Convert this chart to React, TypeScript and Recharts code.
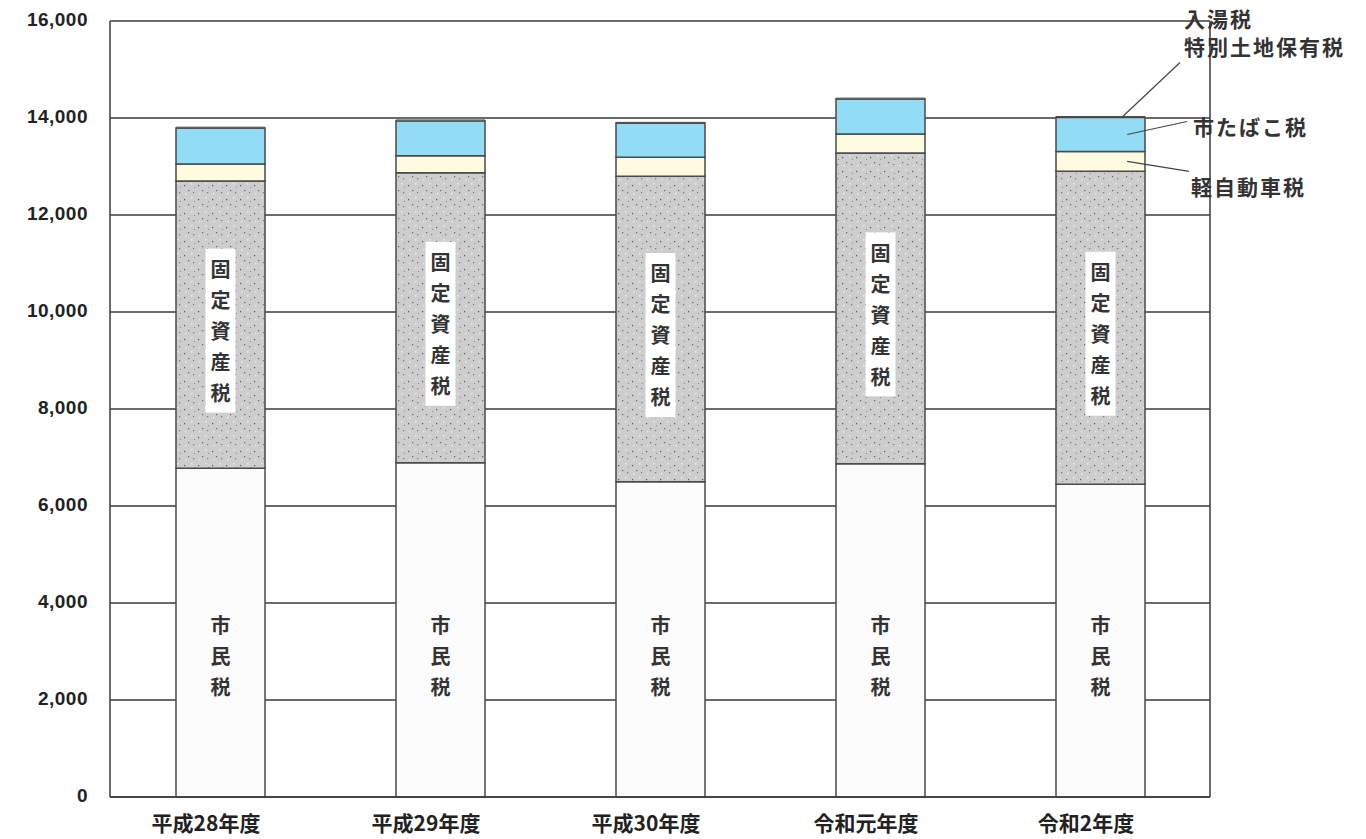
import React from 'react';
import { BarChart, Bar, XAxis, YAxis, CartesianGrid, LabelList } from 'recharts';

const categories = ['平成28年度', '平成29年度', '平成30年度', '令和元年度', '令和2年度'];
const shiminzei = [6780, 6890, 6500, 6870, 6450];
const koteishisanzei = [5920, 5980, 6300, 6410, 6450];
const keijidoshazei = [350, 350, 390, 390, 410];
const tabakozei = [740, 720, 700, 720, 700];
const nyutozei = [20, 20, 20, 20, 20];
const yTicks = [0, 2000, 4000, 6000, 8000, 10000, 12000, 14000, 16000];

const data = categories.map((name, i) => ({
  name,
  shimin: shiminzei[i],
  kotei: koteishisanzei[i],
  kei: keijidoshazei[i],
  tabako: tabakozei[i],
  nyuto: nyutozei[i],
}));

const FONT = '"Noto Sans CJK JP", "Noto Sans", sans-serif';
const INK = '#333';
const EDGE = '#4a4a4a';

const VerticalText: React.FC<{ cx: number; cy: number; text: string; box?: boolean }> = ({ cx, cy, text, box }) => {
  const step = 31;
  const chars = text.split('');
  const top = cy - ((chars.length - 1) * step) / 2;
  return (
    <g>
      {box && (
        <rect x={cx - 15} y={top - 20} width={30} height={(chars.length - 1) * step + 40} fill="#fff" />
      )}
      {chars.map((c, i) => (
        <text
          key={i}
          x={cx}
          y={top + i * step}
          textAnchor="middle"
          dominantBaseline="central"
          fontFamily={FONT}
          fontWeight={700}
          fontSize={20}
          fill={INK}
        >
          {c}
        </text>
      ))}
    </g>
  );
};

const annoText = (x: number, y: number, t: string) => (
  <text
    x={x}
    y={y}
    fontFamily={FONT}
    fontWeight={700}
    fontSize={21}
    letterSpacing={2}
    fill={INK}
    dominantBaseline="central"
  >
    {t}
  </text>
);

const YTick: React.FC<any> = ({ x, y, payload }) => (
  <text
    x={x}
    y={y - 2}
    textAnchor="end"
    dominantBaseline="central"
    fontFamily='"Liberation Sans", Arial, sans-serif'
    fontWeight={700}
    fontSize={19}
    letterSpacing={0.5}
    fill="#222"
  >
    {payload.value.toLocaleString('en-US')}
  </text>
);

const XTick: React.FC<any> = ({ x, y, payload }) => (
  <text
    x={x - 14}
    y={y + 17}
    textAnchor="middle"
    dominantBaseline="central"
    fontFamily={FONT}
    fontWeight={700}
    fontSize={21}
    fill="#222"
  >
    {payload.value}
  </text>
);

export default function App() {
  return (
    <div style={{ position: 'absolute', left: 0, top: 0, width: 1366, height: 839, background: '#fff' }}>
      <BarChart
        width={1366}
        height={839}
        data={data}
        margin={{ top: 21, right: 156, left: 0, bottom: 0 }}
        barSize={89}
      >
        <defs>
          <pattern id="grain" width="14" height="14" patternUnits="userSpaceOnUse">
            <rect width="14" height="14" fill="#cdcdcd" />
            <rect x="2" y="3" width="1.2" height="1.2" fill="#555" />
            <rect x="9" y="1" width="1.5" height="1.5" fill="#ececec" />
            <rect x="6" y="8" width="1.2" height="1.2" fill="#666" />
            <rect x="11" y="10" width="1.2" height="1.2" fill="#777" />
            <rect x="3" y="11" width="1.5" height="1.5" fill="#e8e8e8" />
            <rect x="12" y="5" width="1" height="1" fill="#888" />
          </pattern>
        </defs>
        <CartesianGrid
          stroke="#3a3a3a"
          strokeWidth={1.5}
          verticalCoordinatesGenerator={({ offset }: any) => [offset.left, offset.left + offset.width]}
        />
        <XAxis
          dataKey="name"
          height={42}
          axisLine={{ stroke: '#3a3a3a', strokeWidth: 1.5 }}
          tickLine={false}
          tick={<XTick />}
          interval={0}
        />
        <YAxis
          width={110}
          domain={[0, 16000]}
          ticks={yTicks}
          interval={0}
          axisLine={false}
          tickLine={false}
          tickSize={0}
          tickMargin={22}
          tick={<YTick />}
        />
        <Bar dataKey="shimin" stackId="a" fill="#fcfcfc" stroke={EDGE} strokeWidth={1.5} isAnimationActive={false}>
          <LabelList
            dataKey="shimin"
            content={(p: any) => (
              <VerticalText cx={p.x + p.width / 2} cy={p.y + p.height - 142} text="市民税" />
            )}
          />
        </Bar>
        <Bar dataKey="kotei" stackId="a" fill="url(#grain)" stroke={EDGE} strokeWidth={1.5} isAnimationActive={false}>
          <LabelList
            dataKey="kotei"
            content={(p: any) => (
              <VerticalText cx={p.x + p.width / 2} cy={p.y + p.height / 2 + 6} text="固定資産税" box />
            )}
          />
        </Bar>
        <Bar dataKey="kei" stackId="a" fill="#fffbe0" stroke={EDGE} strokeWidth={1.5} isAnimationActive={false}>
          <LabelList
            dataKey="kei"
            content={(p: any) =>
              p.index === 4 ? (
                <g>
                  <line
                    x1={p.x + p.width * 0.8}
                    y1={p.y + p.height / 2}
                    x2={p.x + p.width + 44}
                    y2={p.y + p.height / 2 + 10}
                    stroke="#444"
                    strokeWidth={1.2}
                  />
                  {annoText(p.x + p.width + 46, p.y + p.height / 2 + 25, '軽自動車税')}
                </g>
              ) : null
            }
          />
        </Bar>
        <Bar dataKey="tabako" stackId="a" fill="#93dcf6" stroke={EDGE} strokeWidth={1.5} isAnimationActive={false}>
          <LabelList
            dataKey="tabako"
            content={(p: any) =>
              p.index === 4 ? (
                <g>
                  <line
                    x1={p.x + p.width * 0.8}
                    y1={p.y + p.height / 2}
                    x2={p.x + p.width + 42}
                    y2={p.y + p.height / 2 - 13}
                    stroke="#444"
                    strokeWidth={1.2}
                  />
                  {annoText(p.x + p.width + 48, p.y + p.height / 2 - 8, '市たばこ税')}
                </g>
              ) : null
            }
          />
        </Bar>
        <Bar dataKey="nyuto" stackId="a" fill="#93dcf6" stroke={EDGE} strokeWidth={1} isAnimationActive={false}>
          <LabelList
            dataKey="nyuto"
            content={(p: any) =>
              p.index === 4 ? (
                <g>
                  <line
                    x1={p.x + p.width * 0.75}
                    y1={p.y}
                    x2={p.x + p.width + 35}
                    y2={p.y - 54}
                    stroke="#444"
                    strokeWidth={1.2}
                  />
                  {annoText(p.x + p.width + 39, p.y - 99, '入湯税')}
                  {annoText(p.x + p.width + 39, p.y - 71, '特別土地保有税')}
                </g>
              ) : null
            }
          />
        </Bar>
      </BarChart>
    </div>
  );
}
